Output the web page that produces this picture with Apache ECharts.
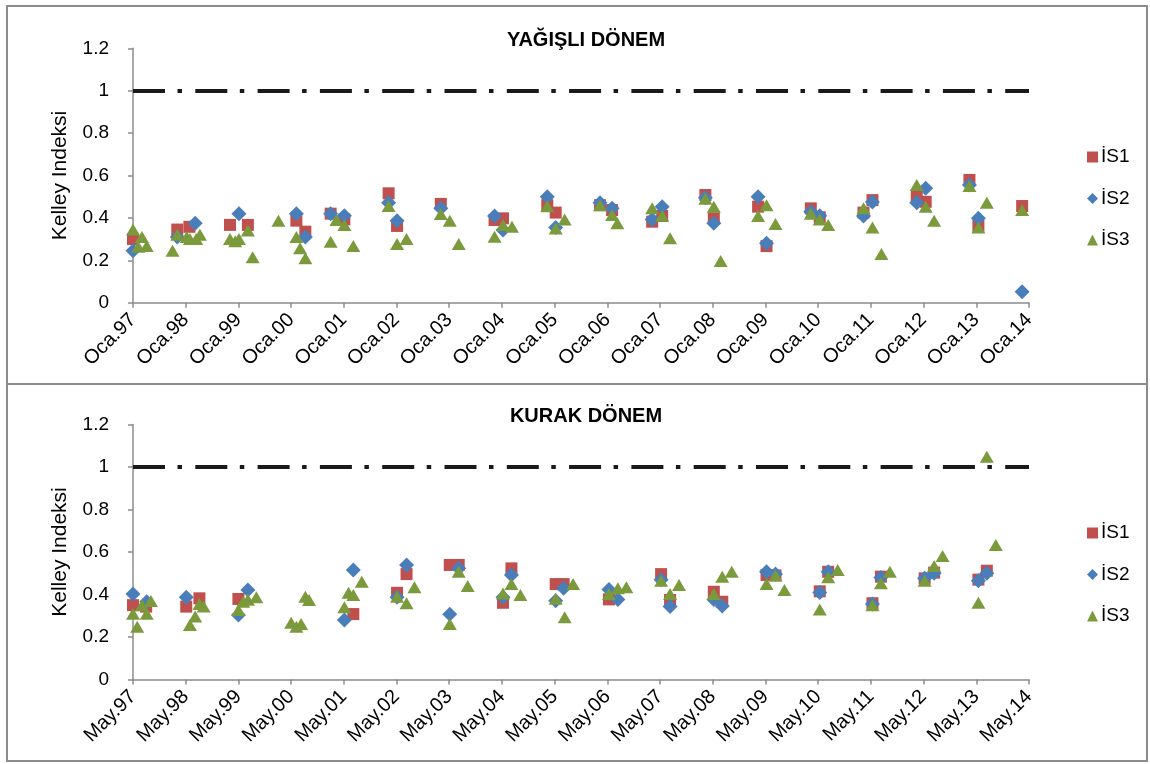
<!DOCTYPE html>
<html>
<head>
<meta charset="utf-8">
<script src="https://cdn.jsdelivr.net/npm/echarts@6/dist/echarts.min.js"></script>
<style>
  html, body { margin: 0; padding: 0; background: #fff; }
  #chart { width: 1150px; height: 764px; }
</style>
</head>
<body>
<div id="chart"></div>
<script>
// Station names (legend entries)
const stationNames = ['İS1', 'İS2', 'İS3'];

// Axis ticks: one per year, labelled with the month abbreviation + two-digit year
const yearTicks = [1997, 2014];
const wetMonthLabel = 'Oca';
const dryMonthLabel = 'May';
const yTicks = [0, 1.2, 0.2];
const kelleyLimit = 1;

// Wet period (YAĞIŞLI DÖNEM): [fractional year, Kelley index]
const wetIS1 = [
  [1997.00, 0.30], [1997.84, 0.345], [1998.07, 0.358], [1998.84, 0.367], [1999.18, 0.367],
  [2000.10, 0.387], [2000.27, 0.335], [2000.75, 0.42], [2001.01, 0.393], [2001.85, 0.516],
  [2002.01, 0.362], [2002.84, 0.466], [2003.86, 0.39], [2004.02, 0.398], [2004.86, 0.46],
  [2005.02, 0.425], [2005.86, 0.46], [2006.09, 0.437], [2006.85, 0.382], [2007.04, 0.409],
  [2007.86, 0.508], [2008.02, 0.398], [2008.86, 0.453], [2009.02, 0.267], [2009.86, 0.445],
  [2010.03, 0.403], [2010.86, 0.425], [2011.03, 0.484], [2011.87, 0.50], [2012.04, 0.476],
  [2012.87, 0.579], [2013.04, 0.362], [2013.87, 0.456]
];
const wetIS2 = [
  [1997.00, 0.245], [1997.84, 0.31], [1998.18, 0.375], [1999.01, 0.42], [2000.10, 0.42],
  [2000.27, 0.31], [2000.75, 0.42], [2001.01, 0.41], [2001.85, 0.472], [2002.01, 0.387],
  [2002.84, 0.445], [2003.86, 0.409], [2004.02, 0.343], [2004.86, 0.50], [2005.02, 0.355],
  [2005.86, 0.472], [2006.09, 0.445], [2006.85, 0.393], [2007.04, 0.453], [2007.86, 0.495],
  [2008.02, 0.375], [2008.86, 0.50], [2009.02, 0.28], [2009.86, 0.429], [2010.03, 0.41],
  [2010.86, 0.409], [2011.03, 0.475], [2011.87, 0.472], [2012.04, 0.54], [2012.87, 0.555],
  [2013.04, 0.398], [2013.87, 0.052]
];
const wetIS3 = [
  [1997.00, 0.345], [1997.10, 0.264], [1997.17, 0.31], [1997.26, 0.267], [1997.75, 0.245],
  [1997.84, 0.32], [1998.02, 0.31], [1998.08, 0.30], [1998.20, 0.30], [1998.27, 0.32],
  [1998.84, 0.30], [1998.94, 0.29], [1999.01, 0.30], [1999.18, 0.34], [1999.27, 0.214],
  [1999.76, 0.387], [2000.10, 0.31], [2000.17, 0.257], [2000.27, 0.21], [2000.75, 0.288],
  [2000.86, 0.39], [2001.01, 0.367], [2001.18, 0.267], [2001.85, 0.456], [2002.01, 0.277],
  [2002.19, 0.30], [2002.84, 0.418], [2003.01, 0.387], [2003.18, 0.277], [2003.86, 0.311],
  [2004.02, 0.367], [2004.19, 0.358], [2004.86, 0.455], [2005.02, 0.35], [2005.19, 0.393],
  [2005.86, 0.46], [2006.09, 0.414], [2006.19, 0.375], [2006.85, 0.445], [2007.04, 0.41],
  [2007.19, 0.304], [2007.86, 0.49], [2008.02, 0.453], [2008.15, 0.197], [2008.86, 0.409],
  [2009.02, 0.46], [2009.19, 0.371], [2009.86, 0.42], [2010.03, 0.393], [2010.19, 0.367],
  [2010.86, 0.445], [2011.03, 0.355], [2011.20, 0.23], [2011.87, 0.555], [2012.04, 0.453],
  [2012.20, 0.387], [2012.87, 0.55], [2013.04, 0.355], [2013.20, 0.472], [2013.87, 0.437]
];

// Dry period (KURAK DÖNEM): [fractional year, Kelley index]
const dryIS1 = [
  [1997.00, 0.35], [1997.25, 0.343], [1998.01, 0.343], [1998.26, 0.382], [1999.00, 0.379],
  [2001.18, 0.308], [2002.01, 0.408], [2002.19, 0.496], [2003.01, 0.539], [2003.18, 0.539],
  [2004.02, 0.361], [2004.18, 0.523], [2005.02, 0.449], [2005.17, 0.449], [2006.03, 0.377],
  [2007.02, 0.496], [2007.19, 0.374], [2008.02, 0.413], [2008.18, 0.366], [2009.02, 0.492],
  [2009.19, 0.49], [2010.03, 0.415], [2010.19, 0.507], [2011.03, 0.359], [2011.19, 0.484],
  [2012.02, 0.476], [2012.20, 0.503], [2013.04, 0.47], [2013.20, 0.512]
];
const dryIS2 = [
  [1997.00, 0.402], [1997.26, 0.366], [1998.01, 0.387], [1999.00, 0.303], [1999.18, 0.421],
  [2001.01, 0.28], [2001.18, 0.515], [2002.01, 0.387], [2002.19, 0.539], [2003.01, 0.307],
  [2003.18, 0.523], [2004.02, 0.387], [2004.18, 0.492], [2005.02, 0.371], [2005.17, 0.429],
  [2006.03, 0.424], [2006.20, 0.377], [2007.02, 0.47], [2007.19, 0.343], [2008.02, 0.377],
  [2008.18, 0.346], [2009.02, 0.507], [2009.19, 0.496], [2010.03, 0.41], [2010.19, 0.507],
  [2011.03, 0.355], [2011.19, 0.48], [2012.02, 0.476], [2012.20, 0.50], [2013.04, 0.465],
  [2013.20, 0.50]
];
const dryIS3 = [
  [1997.00, 0.31], [1997.08, 0.248], [1997.17, 0.35], [1997.26, 0.31], [1997.34, 0.37],
  [1998.08, 0.256], [1998.18, 0.296], [1998.26, 0.355], [1998.34, 0.343], [1999.00, 0.327],
  [1999.09, 0.366], [1999.18, 0.375], [1999.34, 0.387], [2000.00, 0.267], [2000.10, 0.248],
  [2000.19, 0.261], [2000.27, 0.39], [2000.34, 0.374], [2001.01, 0.34], [2001.09, 0.408],
  [2001.18, 0.398], [2001.34, 0.46], [2002.01, 0.39], [2002.19, 0.359], [2002.34, 0.434],
  [2003.01, 0.261], [2003.18, 0.507], [2003.35, 0.44], [2004.02, 0.405], [2004.18, 0.449],
  [2004.35, 0.398], [2005.02, 0.38], [2005.19, 0.293], [2005.35, 0.449], [2006.03, 0.402],
  [2006.20, 0.429], [2006.36, 0.434], [2007.02, 0.465], [2007.19, 0.402], [2007.36, 0.445],
  [2008.02, 0.402], [2008.18, 0.484], [2008.36, 0.507], [2009.02, 0.449], [2009.19, 0.49],
  [2009.36, 0.421], [2010.03, 0.33], [2010.19, 0.481], [2010.37, 0.515], [2011.03, 0.35],
  [2011.19, 0.453], [2011.36, 0.507], [2012.02, 0.465], [2012.20, 0.534], [2012.36, 0.581],
  [2013.04, 0.361], [2013.20, 1.048], [2013.37, 0.633]
];

const FONT = '"Liberation Sans", Arial, sans-serif';
const AXIS_GRAY = '#8c8c8c';
const colors = ['#C0504D', '#4A7EBB', '#7A9A3C'];
const symbols = ['rect', 'diamond', 'triangle'];
const symbolSizes = [12, 15, [14, 12]];

// Panel geometry
const panels = [
  { title: 'YAĞIŞLI DÖNEM', month: wetMonthLabel, data: [wetIS1, wetIS2, wetIS3],
    gridTop: 48.3, gridHeight: 254.4, titleTop: 25, legendTop: 142 },
  { title: 'KURAK DÖNEM', month: dryMonthLabel, data: [dryIS1, dryIS2, dryIS3],
    gridTop: 424.5, gridHeight: 255, titleTop: 401, legendTop: 518 }
];
const GRID_LEFT = 133;
const GRID_WIDTH = 896;
const GRID_CENTER = GRID_LEFT + GRID_WIDTH / 2;

const option = {
  backgroundColor: '#fff',
  animation: false,
  title: [],
  legend: [],
  grid: [],
  xAxis: [],
  yAxis: [],
  series: [],
  graphic: [
    { type: 'rect', shape: { x: 7, y: 6, width: 1140, height: 755 },
      style: { fill: 'none', stroke: AXIS_GRAY, lineWidth: 2 }, silent: true },
    { type: 'line', shape: { x1: 7, y1: 384, x2: 1147, y2: 384 },
      style: { stroke: AXIS_GRAY, lineWidth: 2 }, silent: true }
  ]
};

panels.forEach((p, i) => {
  option.title.push({
    text: p.title, left: GRID_CENTER, top: p.titleTop, textAlign: 'center',
    textStyle: { fontFamily: FONT, fontSize: 20, fontWeight: 'bold', color: '#000' }
  });
  option.legend.push({
    orient: 'vertical', left: 1082, top: p.legendTop,
    itemWidth: 11, itemHeight: 11, itemGap: 21.5,
    data: stationNames.map((n, k) => ({ name: n, icon: symbols[k] })),
    textStyle: { fontFamily: FONT, fontSize: 19, color: '#000', lineHeight: 20, padding: [0, 0, 0, -2] },
    selectedMode: false
  });
  option.grid.push({ left: GRID_LEFT, top: p.gridTop, width: GRID_WIDTH, height: p.gridHeight });
  option.xAxis.push({
    type: 'value', gridIndex: i, min: yearTicks[0], max: yearTicks[1], interval: 1,
    axisLine: { show: true, onZero: false, lineStyle: { color: AXIS_GRAY, width: 1.5 } },
    axisTick: { show: true, length: 5, lineStyle: { color: AXIS_GRAY, width: 1.5 } },
    splitLine: { show: false },
    axisLabel: {
      rotate: 45, margin: 14, fontFamily: FONT, fontSize: 20, color: '#000',
      formatter: v => p.month + '.' + String(v).slice(2)
    }
  });
  option.yAxis.push({
    type: 'value', gridIndex: i, min: yTicks[0], max: yTicks[1], interval: yTicks[2],
    name: 'Kelley Indeksi', nameLocation: 'middle', nameRotate: 90, nameGap: 62,
    nameTextStyle: { fontFamily: FONT, fontSize: 21, color: '#000' },
    axisLine: { show: true, lineStyle: { color: AXIS_GRAY, width: 1.5 } },
    axisTick: { show: true, length: 5, lineStyle: { color: AXIS_GRAY, width: 1.5 } },
    splitLine: { show: false },
    axisLabel: { margin: 24, fontFamily: FONT, fontSize: 19, color: '#000' }
  });
  stationNames.forEach((name, k) => {
    const s = {
      name, type: 'scatter', xAxisIndex: i, yAxisIndex: i,
      symbol: symbols[k], symbolSize: symbolSizes[k],
      itemStyle: { color: colors[k], opacity: 1 },
      data: p.data[k], z: 2 + k
    };
    if (k === 0) {
      // Reference level of the Kelley index
      s.markLine = {
        silent: true, symbol: 'none', z: 1,
        label: { show: false },
        lineStyle: { color: '#1a1a1a', width: 4, type: [32, 12.5, 4.5, 13.3], cap: 'butt' },
        data: [{ yAxis: kelleyLimit }]
      };
    }
    option.series.push(s);
  });
});

const chart = echarts.init(document.getElementById('chart'), null, { renderer: 'canvas' });
chart.setOption(option);
</script>
</body>
</html>
